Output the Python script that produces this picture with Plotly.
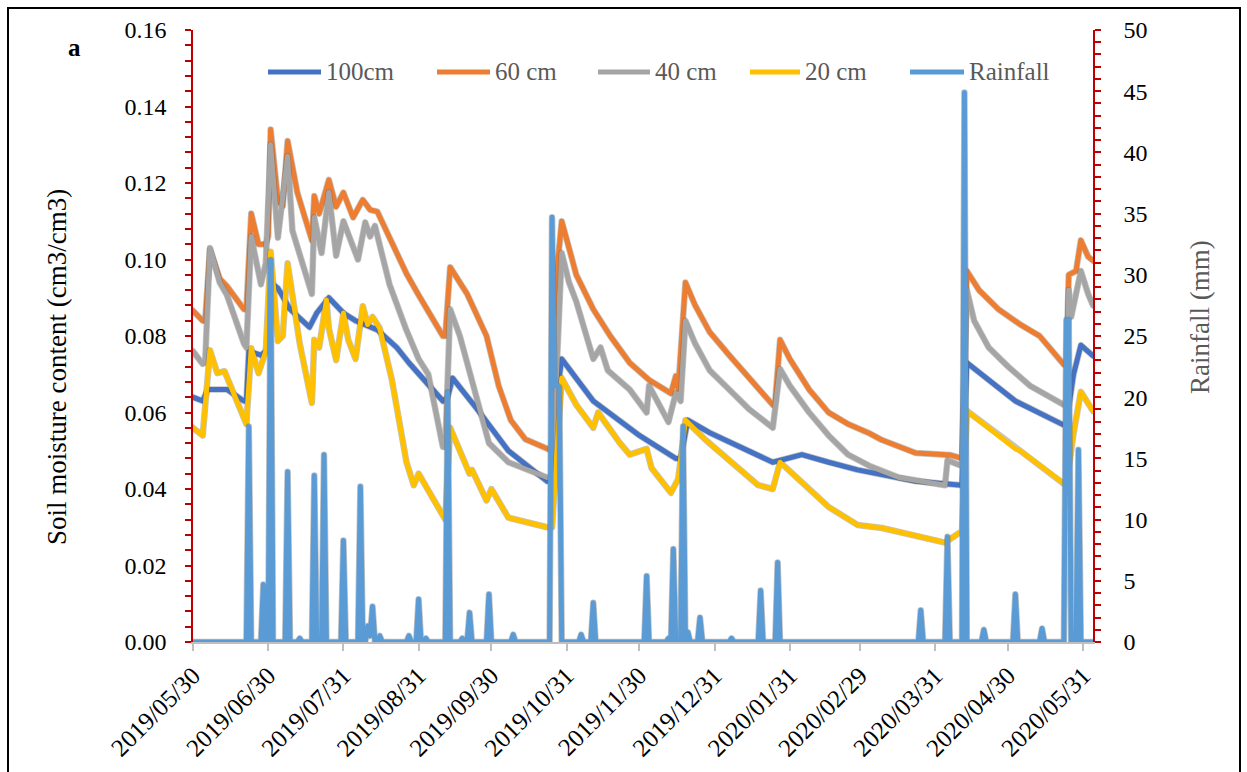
import pandas as pd
import plotly.graph_objects as go

START = "2019-05-30"

# ---- soil moisture (cm3/cm3), days counted from START ----
d100_days = [0, 4, 6, 14, 21, 22, 23, 28, 30, 31, 32, 35, 40, 48, 51, 56, 62, 67, 76, 84,
             89, 93, 103, 105, 107, 117, 130, 146, 148, 149, 152, 165, 180, 184, 199, 201, 204, 213, 239, 246,
             251, 262, 274, 298, 316, 317, 319, 339, 359, 360, 363, 366, 371]
d100 = [0.064, 0.063, 0.066, 0.066, 0.063, 0.063, 0.076, 0.075, 0.076, 0.078,
        0.094, 0.0925, 0.087, 0.0823, 0.086, 0.090, 0.086, 0.084, 0.0816, 0.077,
        0.073, 0.070, 0.063, 0.064, 0.069, 0.061, 0.050, 0.042, 0.042, 0.060,
        0.074, 0.063, 0.0557, 0.054, 0.048, 0.048, 0.058, 0.0547, 0.047, 0.048,
        0.049, 0.047, 0.045, 0.042, 0.041, 0.041, 0.073, 0.063, 0.0567, 0.057,
        0.070, 0.0776, 0.0748]

d60_days = [0, 4, 5, 7, 11, 14, 21, 22, 24, 27,
            30, 31, 32, 35, 37, 39, 43, 49, 50, 52,
            56, 59, 62, 66, 70, 73, 76, 81, 88, 93,
            103, 104, 106, 113, 121, 126, 131, 137, 146, 148,
            149, 152, 155, 158, 165, 172, 180, 188, 197, 199,
            200, 203, 207, 213, 221, 229, 235, 239, 240, 242,
            246, 254, 262, 270, 279, 284, 298, 312, 317, 319,
            324, 332, 341, 349, 359, 360, 361, 364, 366, 369,
            371]
d60 = [0.0866, 0.084, 0.084, 0.1027, 0.095, 0.093, 0.087, 0.087, 0.112, 0.104,
       0.104, 0.106, 0.134, 0.1155, 0.114, 0.131, 0.1175, 0.105, 0.1166, 0.112,
       0.1208, 0.1138, 0.1175, 0.111, 0.1156, 0.113, 0.1125, 0.1056, 0.0963, 0.0907,
       0.080, 0.080, 0.098, 0.091, 0.080, 0.067, 0.058, 0.053, 0.0505, 0.050,
       0.090, 0.110, 0.103, 0.096, 0.087, 0.080, 0.073, 0.0685, 0.065, 0.0695,
       0.066, 0.094, 0.088, 0.081, 0.075, 0.069, 0.065, 0.062, 0.063, 0.079,
       0.074, 0.066, 0.060, 0.057, 0.0545, 0.0528, 0.0494, 0.0489, 0.048, 0.097,
       0.092, 0.087, 0.083, 0.080, 0.0725, 0.0725, 0.096, 0.097, 0.105, 0.1007,
       0.0997]

d40_days = [0, 4, 5, 7, 11, 14, 21, 22, 24, 28,
            30, 32, 35, 39, 41, 49, 50, 53, 56, 59,
            62, 68, 71, 73, 75, 81, 88, 93, 97, 103,
            104, 106, 110, 115, 122, 130, 146, 148, 152, 155,
            158, 165, 168, 171, 180, 187, 188, 196, 199, 201,
            203, 207, 213, 221, 229, 235, 239, 242, 246, 254,
            262, 270, 279, 291, 310, 311, 316, 317, 319, 322,
            328, 336, 345, 353, 359, 360, 361, 362, 363, 366,
            369, 371]
d40 = [0.076, 0.0727, 0.073, 0.103, 0.094, 0.0907, 0.078, 0.077, 0.106, 0.0935,
       0.099, 0.130, 0.1057, 0.127, 0.1075, 0.091, 0.111, 0.1017, 0.1175, 0.101,
       0.110, 0.100, 0.1097, 0.106, 0.1088, 0.0935, 0.0815, 0.074, 0.070, 0.051,
       0.051, 0.087, 0.080, 0.0685, 0.052, 0.047, 0.043, 0.043, 0.1017, 0.094,
       0.089, 0.074, 0.077, 0.071, 0.066, 0.060, 0.067, 0.0575, 0.065, 0.063,
       0.084, 0.078, 0.071, 0.066, 0.061, 0.058, 0.056, 0.0714, 0.067, 0.060,
       0.054, 0.049, 0.046, 0.043, 0.041, 0.0475, 0.0465, 0.046, 0.092, 0.084,
       0.077, 0.072, 0.067, 0.064, 0.062, 0.062, 0.092, 0.085, 0.088, 0.097,
       0.091, 0.088]

d20_days = [0, 4, 7, 10, 13, 16, 21, 22, 24, 27,
            30, 32, 35, 37, 39, 44, 49, 50, 52, 55,
            56, 59, 62, 64, 67, 70, 72, 74, 77, 82,
            88, 91, 93, 103, 104, 106, 114, 115, 121, 123,
            130, 146, 148, 152, 158, 165, 167, 176, 180, 187,
            189, 197, 200, 203, 211, 233, 239, 242, 262, 274,
            284, 310, 316, 317, 319, 339, 341, 359, 360, 363,
            366, 371]
d20 = [0.056, 0.054, 0.0763, 0.0703, 0.0708, 0.066, 0.058, 0.057, 0.0768, 0.0703,
       0.076, 0.102, 0.0787, 0.080, 0.099, 0.078, 0.0625, 0.079, 0.077, 0.0894,
       0.082, 0.0737, 0.086, 0.079, 0.074, 0.0878, 0.083, 0.085, 0.082, 0.0685,
       0.047, 0.041, 0.044, 0.0325, 0.032, 0.056, 0.044, 0.045, 0.037, 0.040,
       0.0325, 0.030, 0.030, 0.069, 0.062, 0.056, 0.060, 0.052, 0.049, 0.0505,
       0.0455, 0.039, 0.0426, 0.058, 0.053, 0.041, 0.040, 0.047, 0.0353, 0.0306,
       0.0298, 0.026, 0.0288, 0.029, 0.0604, 0.0505, 0.050, 0.0413, 0.041, 0.0546,
       0.0654, 0.0604]

# ---- rainfall (mm) ----
rain_days = [0,
             22, 23, 24, 28, 29, 30, 31, 32, 33, 38, 39, 40,
             43, 44, 45, 49, 50, 51, 53, 54, 55, 61, 62, 63,
             68, 69, 70, 71, 72, 73, 74, 75, 76, 77, 78,
             88, 89, 90, 92, 93, 94, 95, 96, 97,
             104, 105, 106, 110, 111, 112, 113, 114, 115,
             121, 122, 123, 131, 132, 133, 147, 148, 149, 150, 151, 152,
             159, 160, 161, 164, 165, 166, 186, 187, 188,
             195, 196, 197, 198, 199, 201, 202, 203, 204, 205,
             208, 209, 210, 221, 222, 223, 233, 234, 235, 240, 241, 242,
             299, 300, 301, 310, 311, 312, 317, 318, 319,
             325, 326, 327, 338, 339, 340, 349, 350, 351,
             359, 360, 361, 362, 364, 365, 366,
             371]
rain_mm = [0,
           0, 17.6, 0, 0, 4.7, 0, 0, 31.2, 0, 0, 13.9, 0,
           0, 0.3, 0, 0, 13.6, 0, 0, 15.3, 0, 0, 8.3, 0,
           0, 12.7, 0, 0, 1.3, 0.5, 2.9, 0, 0, 0.5, 0,
           0, 0.5, 0, 0, 3.5, 0, 0, 0.3, 0,
           0, 20.4, 0, 0, 0.3, 0, 0, 2.4, 0,
           0, 3.9, 0, 0, 0.6, 0, 0, 34.7, 21.0, 21.0, 20.8, 0,
           0, 0.6, 0, 0, 3.2, 0, 0, 5.4, 0,
           0, 0.3, 0, 7.6, 0, 0, 17.6, 0, 0.8, 0,
           0, 2.0, 0, 0, 0.3, 0, 0, 4.2, 0, 0, 6.5, 0,
           0, 2.6, 0, 0, 8.6, 0, 0, 44.9, 0,
           0, 1.0, 0, 0, 3.9, 0, 0, 1.1, 0,
           0, 26.3, 26.3, 0, 0, 15.7, 0,
           0]

tick_dates = ["2019-05-30", "2019-06-30", "2019-07-31", "2019-08-31", "2019-09-30",
              "2019-10-31", "2019-11-30", "2019-12-31", "2020-01-31", "2020-02-29",
              "2020-03-31", "2020-04-30", "2020-05-31"]
tick_labels = ["2019/05/30", "2019/06/30", "2019/07/31", "2019/08/31", "2019/09/30",
               "2019/10/31", "2019/11/30", "2019/12/31", "2020/01/31", "2020/02/29",
               "2020/03/31", "2020/04/30", "2020/05/31"]

series_names = ["100cm", "60 cm", "40 cm", "20 cm", "Rainfall"]
series_colors = ["#4472C4", "#ED7D31", "#A5A5A5", "#FFC000", "#5B9BD5"]


def to_dates(days):
    return pd.Timestamp(START) + pd.to_timedelta(days, unit="D")


SERIF = "Liberation Serif, Times New Roman, serif"
AX_RED = "#C00000"
SHADOW = "rgba(90,90,90,0.35)"

fig = go.Figure()
moisture = [(d100_days, d100), (d60_days, d60), (d40_days, d40), (d20_days, d20)]
for (days, vals), name, col in zip(moisture, series_names[:4], series_colors[:4]):
    fig.add_trace(go.Scatter(x=to_dates(days), y=vals, mode="lines", name=name + " edge",
                             line=dict(color=SHADOW, width=6.5), showlegend=False,
                             hoverinfo="skip"))
    fig.add_trace(go.Scatter(x=to_dates(days), y=vals, mode="lines", name=name,
                             line=dict(color=col, width=5), showlegend=False))
fig.add_trace(go.Scatter(x=to_dates(rain_days), y=rain_mm, mode="lines", name="Rainfall edge",
                         yaxis="y2", line=dict(color=SHADOW, width=6.5),
                         showlegend=False, hoverinfo="skip"))
fig.add_trace(go.Scatter(x=to_dates(rain_days), y=rain_mm, mode="lines", name="Rainfall",
                         yaxis="y2", line=dict(color=series_colors[4], width=5),
                         showlegend=False))

# plot-area geometry in pixels (for paper-coordinate decorations)
L, R, T, B = 193, 1093, 30, 642
W, H = R - L, B - T


def px(x):
    return (x - L) / W


def py(y):
    return (B - y) / H


fig.update_layout(
    width=1247, height=772, autosize=False,
    margin=dict(l=L, r=1247 - R, t=T, b=772 - B, pad=0),
    paper_bgcolor="white", plot_bgcolor="white",
    font=dict(family=SERIF, size=24, color="black"),
    xaxis=dict(type="date", range=[to_dates(0), to_dates(371)],
               tickvals=tick_dates, ticktext=tick_labels, tickangle=-45,
               showline=True, linecolor="#BFBFBF", linewidth=2,
               ticks="outside", ticklen=7, tickwidth=2, tickcolor="#BFBFBF",
               showgrid=False, zeroline=False,
               tickfont=dict(family=SERIF, size=25, color="black")),
    yaxis=dict(range=[0, 0.16], dtick=0.02, tickformat=".2f",
               showline=True, linecolor=AX_RED, linewidth=1.5,
               ticks="outside", ticklen=6, tickwidth=1.5, tickcolor=AX_RED,
               minor=dict(dtick=0.004, ticks="outside", ticklen=6, tickwidth=1.5,
                          tickcolor=AX_RED, showgrid=False),
               showgrid=False, zeroline=False, ticklabelstandoff=14,
               tickfont=dict(family=SERIF, size=24, color="black")),
    yaxis2=dict(overlaying="y", side="right", range=[0, 50], dtick=5,
                showline=True, linecolor=AX_RED, linewidth=1.5,
                ticks="outside", ticklen=6, tickwidth=1.5, tickcolor=AX_RED,
                minor=dict(dtick=1, ticks="outside", ticklen=6, tickwidth=1.5,
                           tickcolor=AX_RED, showgrid=False),
                showgrid=False, zeroline=False, ticklabelstandoff=18,
                tickfont=dict(family=SERIF, size=24, color="black")),
    showlegend=False,
)

shapes = [dict(type="rect", xref="paper", yref="paper",
               x0=px(8), x1=px(1240), y0=py(800), y1=py(8),
               line=dict(color="black", width=2), fillcolor="rgba(0,0,0,0)",
               layer="below")]
annotations = [
    dict(text="<b>a</b>", xref="paper", yref="paper", x=px(75), y=py(47),
         xanchor="center", yanchor="middle", showarrow=False,
         font=dict(family=SERIF, size=25, color="black")),
    dict(text="Soil moisture content (cm3/cm3)", xref="paper", yref="paper",
         x=px(57), y=py(367), xanchor="center", yanchor="middle",
         textangle=-90, showarrow=False,
         font=dict(family=SERIF, size=27, color="black")),
    dict(text="Rainfall (mm)", xref="paper", yref="paper",
         x=px(1200), y=py(317), xanchor="center", yanchor="middle",
         textangle=-90, showarrow=False,
         font=dict(family=SERIF, size=27, color="#595959")),
]

# manual legend (long line samples like the original)
leg_y = py(72)
leg_x = [(268, 321), (437, 490), (598, 650), (750, 800), (910, 964)]
for (x0, x1), name, col in zip(leg_x, series_names, series_colors):
    shapes.append(dict(type="line", xref="paper", yref="paper",
                       x0=px(x0), x1=px(x1), y0=leg_y, y1=leg_y,
                       line=dict(color=col, width=5)))
    annotations.append(dict(text=name, xref="paper", yref="paper",
                            x=px(x1 + 3), y=leg_y, xanchor="left", yanchor="middle",
                            showarrow=False,
                            font=dict(family=SERIF, size=25, color="#595959")))

fig.update_layout(shapes=shapes, annotations=annotations)

fig.write_html(
    "out.html",
    config={"displayModeBar": False},
    post_script=(
        "document.body.style.margin='0';document.body.style.overflow='hidden';"
        "document.querySelectorAll('.scatterlayer path.js-line').forEach(function(p){"
        "p.style.strokeLinejoin='round';p.style.strokeLinecap='round';});"
    ),
)
